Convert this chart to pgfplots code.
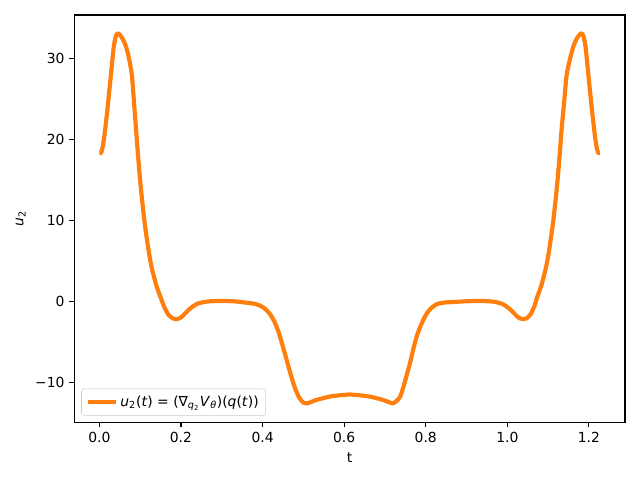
\documentclass[border=0pt]{standalone}
\usepackage{fontspec}
\setmainfont{DejaVu Sans}
\usepackage{pgfplots}
\pgfplotsset{compat=1.18}
\definecolor{mplorange}{HTML}{FF7F0E}

\begin{document}
\begin{tikzpicture}
\begin{axis}[
    name=ax, scale only axis, width=396.5pt, height=293.4pt,
    xmin=-0.0614, xmax=1.2884, ymin=-14.96, ymax=35.35,
    xtick={0,0.2,0.4,0.6,0.8,1.0,1.2},
    xticklabels={0.0,0.2,0.4,0.6,0.8,1.0,1.2},
    ytick={-10,0,10,20,30},
    yticklabels={−10,0,10,20,30},
    tick pos=left, tick align=outside, major tick length=3.5pt,
    tick style={black, line width=0.8pt},
    axis line style={line width=0.8pt},
    tick label style={font=\fontsize{10}{12}\selectfont},
    label style={font=\fontsize{10}{12}\selectfont},
    xlabel={t}, ylabel={\textit{u}\textsubscript{2}},
    legend style={at={(0.0126,0.017)}, anchor=south west,
        draw=black!20, fill=white, fill opacity=0.8, text opacity=1,
        rounded corners=2pt, font=\fontsize{10}{12}\selectfont,
        inner xsep=3pt, inner ysep=3pt},
    legend cell align=left,
    legend image code/.code={\draw[#1] (0pt,0pt) -- (20pt,0pt);},
]
\addplot[mplorange, line width=3pt, line join=round, smooth, tension=0.35] coordinates {
(0.000,18.3)(0.004,18.3)(0.008,19.0)(0.012,20.3)(0.016,22.0)(0.020,23.8)
(0.025,26.3)(0.030,28.8)(0.035,31.3)(0.040,32.7)(0.045,33.1)(0.050,32.9)
(0.055,32.6)(0.060,32.1)(0.065,31.5)(0.070,30.6)(0.075,29.4)(0.080,27.8)
(0.085,24.5)(0.090,21.2)(0.095,17.9)(0.100,14.9)(0.105,12.4)(0.110,10.1)
(0.115,8.2)(0.120,6.5)(0.125,5.0)(0.130,3.8)(0.140,1.9)(0.150,0.5)
(0.160,-0.8)(0.170,-1.7)(0.180,-2.1)(0.190,-2.2)(0.200,-2.0)(0.210,-1.5)
(0.220,-1.0)(0.230,-0.6)(0.240,-0.3)(0.255,-0.1)(0.270,0.0)(0.300,0.05)
(0.330,0.0)(0.350,-0.1)(0.365,-0.2)(0.380,-0.3)(0.390,-0.45)(0.400,-0.7)
(0.410,-1.1)(0.420,-1.7)(0.430,-2.6)(0.440,-3.9)(0.450,-5.6)(0.460,-7.4)
(0.470,-9.2)(0.480,-10.8)(0.490,-11.9)(0.500,-12.5)(0.510,-12.6)(0.520,-12.4)
(0.530,-12.2)(0.545,-12.0)(0.560,-11.8)(0.580,-11.65)(0.600,-11.55)(0.6135,-11.5)
(0.627,-11.55)(0.647,-11.65)(0.667,-11.8)(0.682,-12.0)(0.697,-12.2)(0.710,-12.45)
(0.718,-12.6)(0.725,-12.45)(0.737,-11.8)(0.745,-10.6)(0.7535,-9.1)(0.762,-7.5)
(0.770,-5.8)(0.778,-4.3)(0.786,-3.2)(0.794,-2.3)(0.8025,-1.5)(0.812,-0.9)
(0.827,-0.35)(0.845,-0.15)(0.862,-0.1)(0.897,0.0)(0.927,0.05)(0.957,0.0)
(0.972,-0.1)(0.987,-0.3)(0.997,-0.6)(1.007,-1.0)(1.017,-1.5)(1.027,-2.0)
(1.037,-2.2)(1.047,-2.1)(1.057,-1.6)(1.067,-0.5)(1.073,0.5)(1.083,1.9)
(1.093,3.8)(1.098,5.0)(1.103,6.5)(1.108,8.2)(1.113,10.1)(1.118,12.4)
(1.123,14.9)(1.128,17.9)(1.133,21.2)(1.139,24.5)(1.145,27.8)(1.151,29.4)
(1.157,30.6)(1.162,31.5)(1.167,32.1)(1.172,32.6)(1.177,32.9)(1.182,33.1)
(1.187,32.7)(1.192,31.3)(1.197,28.8)(1.202,26.3)(1.207,23.8)(1.211,22.0)
(1.215,20.3)(1.219,19.0)(1.223,18.3)(1.227,18.3)
};
\addlegendentry{\textit{u}\textsubscript{2}(\textit{t}) = (∇\textsubscript{\textit{q}\textsubscript{2}}\textit{V}\textsubscript{\textit{θ}})(\textit{q}(\textit{t}))}
\end{axis}
\path[use as bounding box] ([shift={(-53.5pt,-41.4pt)}]ax.south west) rectangle ([shift={(10.8pt,10.8pt)}]ax.north east);
\end{tikzpicture}
\end{document}
